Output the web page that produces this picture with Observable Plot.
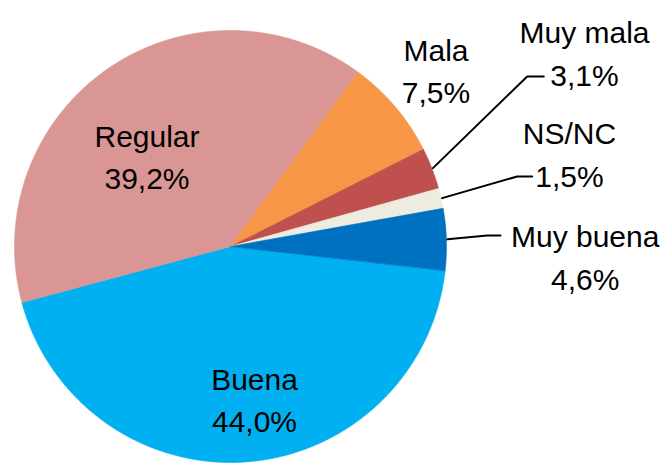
<!DOCTYPE html>
<html>
<head>
<meta charset="utf-8">
<script src="https://cdn.jsdelivr.net/npm/d3@7"></script>
<script src="https://cdn.jsdelivr.net/npm/@observablehq/plot@0.6"></script>
<style>
  html, body { margin: 0; padding: 0; background: #fff; }
  #chart svg { display: block; }
</style>
</head>
<body>
<div id="chart"></div>
<script>
// ---- data ----
const categories = ["Buena", "Regular", "Mala", "Muy mala", "NS/NC", "Muy buena"];
const values = [44.0, 39.2, 7.5, 3.1, 1.5, 4.6];
const colors = ["#00B0F0", "#D99694", "#F79646", "#C0504D", "#EEECE1", "#0070C0"];

// ---- layout (pixels) ----
const W = 669, H = 463, CX = 230, CY = 246, R = 216;
const startDeg = 96.4;
// label block: center x, cap-top y of first line; optional leader elbow & end
const labelLayout = [
  {x: 254,   y: 359},
  {x: 146.5, y: 116},
  {x: 435.5, y: 30},
  {x: 584,   y: 12.5, elbow: [526.7, 76],  end: [543.3, 76]},
  {x: 569,   y: 113.5, elbow: [516.7, 176], end: [531.7, 176]},
  {x: 584.7, y: 216.5, elbow: [486.7, 235], end: [500, 235]}
];

// convert pixel layout to unit (pie-radius) coordinates, y up
const ux = px => (px - CX) / R;
const uy = py => (CY - py) / R;

const a0 = startDeg * Math.PI / 180;
const arcs = d3.pie().sort(null).value(d => d.value).startAngle(a0).endAngle(a0 + 2 * Math.PI)(
  categories.map((c, i) => ({category: c, value: values[i]}))
);

// slice polygons
const slicePts = [];
arcs.forEach(a => {
  const c = a.data.category;
  slicePts.push({category: c, x: 0, y: 0});
  const n = Math.max(2, Math.ceil((a.endAngle - a.startAngle) / (Math.PI / 720)));
  for (let k = 0; k <= n; k++) {
    const t = a.startAngle + (a.endAngle - a.startAngle) * k / n;
    slicePts.push({category: c, x: Math.sin(t), y: Math.cos(t)});
  }
});

// labels
const fmt = v => v.toFixed(1).replace(".", ",") + "%";
const labels = arcs.map((a, i) => ({
  text: `${a.data.category}\n${fmt(a.data.value)}`,
  x: ux(labelLayout[i].x),
  y: uy(labelLayout[i].y)
}));

// leader lines
const leaders = [];
arcs.forEach((a, i) => {
  const L = labelLayout[i];
  if (!L.elbow) return;
  const m = (a.startAngle + a.endAngle) / 2;
  const c = a.data.category;
  leaders.push({category: c, x: Math.sin(m) * 1.005, y: Math.cos(m) * 1.005});
  leaders.push({category: c, x: ux(L.elbow[0]), y: uy(L.elbow[1])});
  leaders.push({category: c, x: ux(L.end[0]), y: uy(L.end[1])});
});

const chart = Plot.plot({
  width: W,
  height: H,
  margin: 0,
  x: {domain: [ux(0), ux(W)], range: [0, W], axis: null},
  y: {domain: [uy(0), uy(H)], range: [0, H], axis: null},
  color: {domain: categories, range: colors},
  style: {background: "#fff", fontFamily: "'Liberation Sans', Arial, sans-serif"},
  marks: [
    Plot.line(slicePts, {x: "x", y: "y", z: "category", fill: "category", stroke: "category", strokeWidth: 0.6, curve: "linear-closed"}),
    Plot.line(leaders, {x: "x", y: "y", z: "category", stroke: "#000", strokeWidth: 2}),
    Plot.text(labels, {x: "x", y: "y", text: "text", fill: "#000", fontSize: 30, lineHeight: 1.42, lineAnchor: "top", textAnchor: "middle"})
  ]
});
document.getElementById("chart").appendChild(chart);
</script>
</body>
</html>
